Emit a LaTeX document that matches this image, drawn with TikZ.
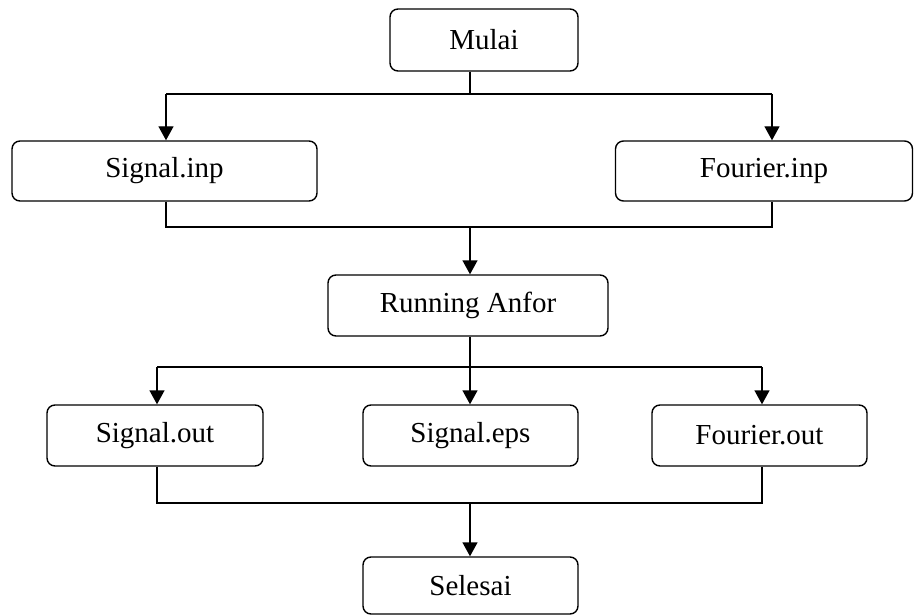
\documentclass[tikz,border=0pt]{standalone}
\usepackage{fontspec}
\setmainfont{Liberation Serif}
\usetikzlibrary{arrows.meta}
\begin{document}
\begin{tikzpicture}[x=1pt,y=-1pt,
  box/.style={draw,line width=1.4pt,rounded corners=8pt,inner sep=0pt,
    font=\fontsize{29}{34}\selectfont},
  ln/.style={line width=1.4pt},
  arr/.style={line width=1.4pt,-{Triangle[length=14pt,width=15pt]}}]
\useasboundingbox (0,0) rectangle (914,615);
\node[box,minimum width=188pt,minimum height=62pt] (mulai) at (484,40) {Mulai};
\node[box,minimum width=305pt,minimum height=60pt] (sinp) at (164.5,171) {Signal.inp};
\node[box,minimum width=297pt,minimum height=60pt] (finp) at (764,171) {Fourier.inp};
\node[box,minimum width=280pt,minimum height=61pt] (run) at (468,305.5) {Running Anfor};
\node[box,minimum width=216pt,minimum height=61pt] (sout) at (155,435.5) {Signal.out};
\node[box,minimum width=215pt,minimum height=61pt] (seps) at (470.5,435.5) {Signal.eps};
\node[box,minimum width=215pt,minimum height=61pt] (fout) at (759.5,435.5) {Fourier.out};
\node[box,minimum width=215pt,minimum height=57pt] (sel) at (470.5,585.5) {Selesai};
% top split
\coordinate (j1) at (470,94);
\coordinate (a1) at (166,94);
\coordinate (a2) at (772,94);
\draw[ln] (mulai.south -| j1) -- (j1);
\draw[ln] (a1) -- (a2);
\draw[arr] (a1) -- (a1 |- sinp.north);
\draw[arr] (a2) -- (a2 |- finp.north);
% merge to Running
\coordinate (b1) at (166,227);
\coordinate (b2) at (772,227);
\coordinate (bm) at (470,227);
\draw[ln] (b1 |- sinp.south) -- (b1) -- (b2) -- (b2 |- finp.south);
\draw[arr] (bm) -- (bm |- run.north);
% split to outputs
\coordinate (c1) at (157,367);
\coordinate (cm) at (470,367);
\coordinate (c2) at (762,367);
\draw[ln] (run.south -| cm) -- (cm);
\draw[ln] (c1) -- (c2);
\draw[arr] (c1) -- (c1 |- sout.north);
\draw[arr] (cm) -- (cm |- seps.north);
\draw[arr] (c2) -- (c2 |- fout.north);
% merge to Selesai
\coordinate (d1) at (157,503);
\coordinate (dm) at (470,503);
\coordinate (d2) at (762,503);
\draw[ln] (d1 |- sout.south) -- (d1) -- (d2) -- (d2 |- fout.south);
\draw[arr] (dm) -- (dm |- sel.north);
\end{tikzpicture}
\end{document}
